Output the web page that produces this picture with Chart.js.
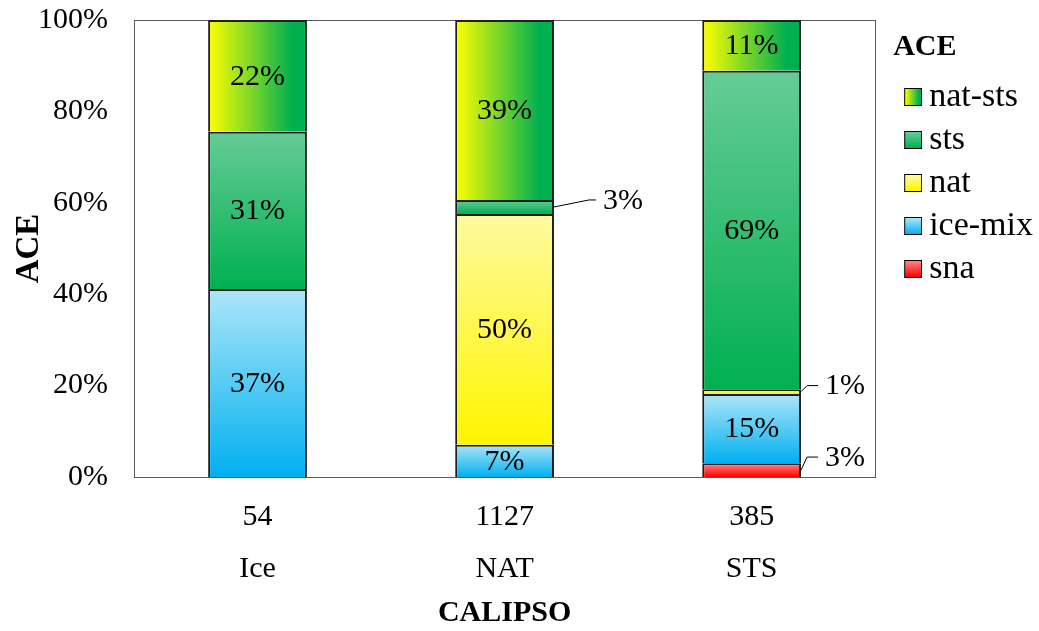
<!DOCTYPE html>
<html>
<head>
<meta charset="utf-8">
<script src="https://cdn.jsdelivr.net/npm/chart.js@4/dist/chart.umd.min.js"></script>
<style>
  html, body { margin: 0; padding: 0; background: #fff; }
  canvas { display: block; }
</style>
</head>
<body>
<canvas id="chart" width="1039" height="631"></canvas>
<script>
// CALIPSO class (with sample count) vs. ACE composition, in percent
const categories = ['Ice', 'NAT', 'STS'];
const sampleCounts = ['54', '1127', '385'];
const snaPct    = [0, 0, 3];
const iceMixPct = [37, 7, 15];
const natPct    = [0, 50, 1];
const stsPct    = [31, 3, 69];
const natStsPct = [22, 39, 11];
const yTicks = [0, 20, 40, 60, 80, 100];

const FONT = '"Liberation Serif", "Times New Roman", serif';

// stacking order bottom -> top, with gradient stops (light, saturated)
const series = [
  { label: 'sna',     values: snaPct,    stops: ['#ff8585', '#ff0000'], dir: 'v' },
  { label: 'ice-mix', values: iceMixPct, stops: ['#aee6f8', '#00b0f0'], dir: 'v' },
  { label: 'nat',     values: natPct,    stops: ['#fffaa0', '#fff500'], dir: 'v' },
  { label: 'sts',     values: stsPct,    stops: ['#66cc96', '#00b050'], dir: 'v' },
  { label: 'nat-sts', values: natStsPct, stops: ['#ffff00', '#00b050'], dir: 'h' }
];

// each bar is scaled to 100 % of its own classified total
const totals = categories.map((_, i) => series.reduce((a, s) => a + s.values[i], 0));
const shares = series.map(s => s.values.map((v, i) => v ? v / totals[i] * 100 : null));

const BAR_PCT = 0.4;

function segmentFill(ctx, si) {
  const s = series[si];
  const chart = ctx.chart;
  const i = ctx.dataIndex;
  const xs = chart.scales.x, ys = chart.scales.y;
  if (i === undefined || !chart.chartArea || !xs || !ys) return s.stops[1];
  let start = 0;
  for (let k = 0; k < si; k++) start += shares[k][i] || 0;
  const end = start + (shares[si][i] || 0);
  const c = chart.ctx;
  let g;
  if (s.dir === 'h') {
    const cx = xs.getPixelForValue(i);
    const half = xs.width / categories.length * BAR_PCT / 2;
    g = c.createLinearGradient(cx - half, 0, cx + half, 0);
    g.addColorStop(0, s.stops[0]);
    g.addColorStop(0.85, s.stops[1]);
    g.addColorStop(1, s.stops[1]);
  } else {
    g = c.createLinearGradient(0, ys.getPixelForValue(end), 0, ys.getPixelForValue(start));
    g.addColorStop(0, s.stops[0]);
    g.addColorStop(1, s.stops[1]);
  }
  return g;
}

// legend swatch: 17px box drawn in the right part of a 30px wide canvas
function swatch(s) {
  const cv = document.createElement('canvas');
  cv.width = 30; cv.height = 18;
  const c = cv.getContext('2d');
  const x0 = 13, x1 = 29;
  const g = s.dir === 'h' ? c.createLinearGradient(x0, 0, x1, 0) : c.createLinearGradient(0, 1, 0, 17);
  g.addColorStop(0, s.stops[0]);
  g.addColorStop(s.dir === 'h' ? 0.85 : 1, s.stops[1]);
  c.fillStyle = g;
  c.fillRect(x0, 1, x1 - x0, 16);
  c.strokeStyle = '#000';
  c.lineWidth = 1;
  c.strokeRect(x0 - 0.5, 0.5, x1 - x0 + 1, 17);
  return cv;
}

// leader-line placement for the thin segments
const callouts = {
  'NAT/sts': { dy: -7,  elbow: 35, reach: 42 },
  'STS/nat': { dy: -6,  elbow: 6,  reach: 17 },
  'STS/sna': { dy: -13, elbow: 6,  reach: 17 }
};

const LEGEND_GAP = 18;

const legendShift = {
  id: 'legendShift',
  afterLayout(chart) {
    const lg = chart.legend;
    if (!lg) return;
    lg.left += LEGEND_GAP;
    lg.right += LEGEND_GAP;
  }
};

const framePlugin = {
  id: 'frame',
  beforeDatasetsDraw(chart) {
    const { left, top, right, bottom } = chart.chartArea;
    const c = chart.ctx;
    c.save();
    c.strokeStyle = '#595959';
    c.lineWidth = 1;
    c.strokeRect(Math.round(left) + 0.5, Math.round(top) + 0.5, Math.round(right - left), Math.round(bottom - top));
    c.restore();
  }
};

const valueLabels = {
  id: 'valueLabels',
  afterDatasetsDraw(chart) {
    const c = chart.ctx;
    c.save();
    c.font = '30px ' + FONT;
    c.fillStyle = '#000';
    c.strokeStyle = '#000';
    c.lineWidth = 1;
    series.forEach((s, si) => {
      const meta = chart.getDatasetMeta(si);
      meta.data.forEach((el, i) => {
        const v = s.values[i];
        if (!v) return;
        const text = v + '%';
        const yMid = (el.y + el.base) / 2;
        if (v >= 5) {
          c.textAlign = 'center';
          c.textBaseline = 'middle';
          c.fillText(text, el.x, yMid + 1);
        } else {
          const cfg = callouts[categories[i] + '/' + s.label] || { dy: -7, elbow: 6, reach: 16 };
          const xr = el.x + el.width / 2;
          const yt = yMid + cfg.dy;
          c.beginPath();
          c.moveTo(xr, yMid);
          c.lineTo(xr + cfg.elbow, yt);
          c.lineTo(xr + cfg.reach, yt);
          c.stroke();
          c.textAlign = 'left';
          c.textBaseline = 'middle';
          c.fillText(text, xr + cfg.reach + 7, yt + 1);
        }
      });
    });
    c.restore();
  }
};

new Chart(document.getElementById('chart'), {
  type: 'bar',
  data: {
    labels: categories.map((c, i) => [sampleCounts[i], c]),
    datasets: series.map((s, si) => ({
      label: s.label,
      data: shares[si],
      backgroundColor: ctx => segmentFill(ctx, si),
      borderColor: '#202020',
      borderWidth: 2,
      borderSkipped: 'start',
      barPercentage: BAR_PCT,
      categoryPercentage: 1,
      pointStyle: swatch(s)
    }))
  },
  options: {
    responsive: false,
    devicePixelRatio: 1,
    animation: false,
    layout: { padding: { top: 20, right: 14, bottom: 0, left: 0 } },
    plugins: {
      tooltip: { enabled: false },
      legend: {
        position: 'right',
        align: 'start',
        reverse: true,
        title: {
          display: true,
          text: 'ACE',
          position: 'start',
          color: '#000',
          font: { family: FONT, size: 30, weight: 'bold' },
          padding: { top: 12, bottom: 3 }
        },
        labels: {
          usePointStyle: true,
          pointStyleWidth: 10,
          boxHeight: 18,
          padding: 9,
          color: '#000',
          font: { family: FONT, size: 34 }
        }
      }
    },
    scales: {
      x: {
        stacked: true,
        grid: { display: false, drawTicks: false },
        border: { display: false },
        ticks: {
          color: '#000',
          padding: 14,
          maxRotation: 0,
          font: { family: FONT, size: 30, lineHeight: 1.73 }
        },
        title: {
          display: true,
          text: 'CALIPSO',
          color: '#000',
          font: { family: FONT, size: 30, weight: 'bold', lineHeight: 1.1 },
          padding: { top: 0, bottom: 1 }
        },
        afterFit(scale) { scale.height = 154; }
      },
      y: {
        stacked: true,
        min: 0,
        max: 100,
        grid: { display: false, drawTicks: true, tickLength: 26 },
        border: { display: false },
        afterBuildTicks(scale) { scale.ticks = yTicks.map(v => ({ value: v })); },
        ticks: {
          color: '#000',
          padding: 0,
          callback: v => v + '%',
          font: { family: FONT, size: 30 }
        },
        title: {
          display: true,
          text: 'ACE',
          color: '#000',
          font: { family: FONT, size: 33, weight: 'bold' },
          padding: { top: 10, bottom: 0 }
        },
        afterFit(scale) { scale.width = 134; }
      }
    }
  },
  plugins: [legendShift, framePlugin, valueLabels]
});
</script>
</body>
</html>
